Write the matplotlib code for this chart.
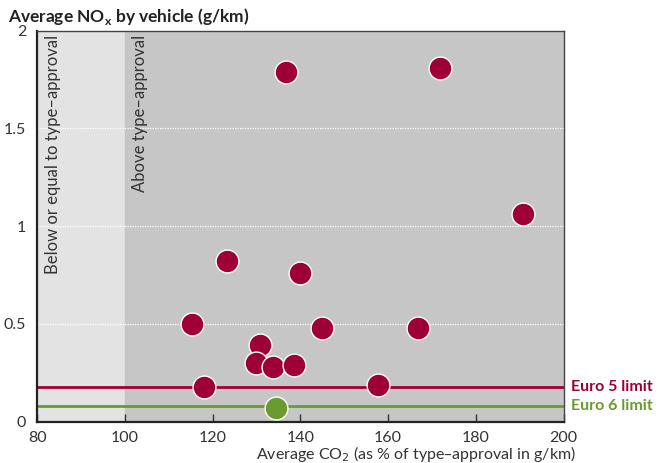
import numpy as np
import matplotlib.pyplot as plt

plt.rcParams['font.family'] = ['Lato', 'DejaVu Sans']

# Données
co2_euro5 = [136.7, 171.8, 190.8, 123.2, 139.9, 115.3, 145.0, 166.8,
             130.9, 129.9, 133.8, 138.5, 118.1, 157.7]
nox_euro5 = [1.79, 1.81, 1.06, 0.82, 0.76, 0.50, 0.48, 0.48,
             0.39, 0.30, 0.28, 0.29, 0.18, 0.19]
co2_euro6 = [134.4]
nox_euro6 = [0.07]

limite_euro5 = 0.18
limite_euro6 = 0.08

rouge = '#9e0036'
vert = '#6b9a2e'

fig = plt.figure(figsize=(6.61, 4.63), dpi=100)
ax = fig.add_axes([0.0564, 0.0892, 0.7961, 0.8445])

ax.set_xlim(80, 200)
ax.set_ylim(0, 2)

# Zones de fond
ax.axvspan(80, 100, color='#e3e3e3', zorder=0)
ax.axvspan(100, 200, color='#c6c6c6', zorder=0)

# Grille horizontale pointillée blanche
for y in [0.5, 1, 1.5]:
    ax.axhline(y, color='white', linestyle=(0, (1, 1)), linewidth=0.9, zorder=1)

# Limites Euro
ax.axhline(limite_euro5, color=rouge, linewidth=2, zorder=2)
ax.axhline(limite_euro6, color=vert, linewidth=2, zorder=2)

ax.scatter(co2_euro5, nox_euro5, s=270, color=rouge, edgecolor='white',
           linewidth=1, zorder=3, clip_on=False)
ax.scatter(co2_euro6, nox_euro6, s=270, color=vert, edgecolor='white',
           linewidth=1, zorder=3, clip_on=False)

# Textes verticaux
ax.text(83.5, 1.98, 'Below or equal to type\u2013approval', rotation=90,
        va='top', ha='center', fontsize=12, color='#333333')
ax.text(103.5, 1.98, 'Above type\u2013approval', rotation=90,
        va='top', ha='center', fontsize=12, color='#333333')

# Étiquettes des limites
ax.text(1.015, limite_euro5, 'Euro 5 limit', transform=ax.get_yaxis_transform(),
        color=rouge, fontsize=11.5, fontweight='bold', va='center', ha='left')
ax.text(1.015, limite_euro6, 'Euro 6 limit', transform=ax.get_yaxis_transform(),
        color=vert, fontsize=11.5, fontweight='bold', va='center', ha='left')

ax.set_xticks([80, 100, 120, 140, 160, 180, 200])
ax.set_yticks([0, 0.5, 1, 1.5, 2])
ax.set_yticklabels(['0', '0.5', '1', '1.5', '2'])
ax.tick_params(axis='x', direction='in', length=6, width=1, color='#333333',
               labelsize=11.5, pad=7)
ax.tick_params(axis='y', length=0, labelsize=11.5, pad=8)
ax.tick_params(colors='#333333', which='both')

for cote in ['left', 'bottom']:
    ax.spines[cote].set_linewidth(1.6)
    ax.spines[cote].set_color('#222222')
for cote in ['top', 'right']:
    ax.spines[cote].set_linewidth(1.0)
    ax.spines[cote].set_color('#444444')

ax.set_xlabel('Average CO$_2$ (as % of type\u2013approval in g/km)', fontsize=11.5,
              color='#333333', labelpad=-1, x=0.72)
fig.text(0.012, 0.965, 'Average NO$_\\mathregular{x}$ by vehicle (g/km)', fontsize=12.5,
         fontweight='bold', color='#222222', va='center')

plt.savefig('out.png', dpi=100)
